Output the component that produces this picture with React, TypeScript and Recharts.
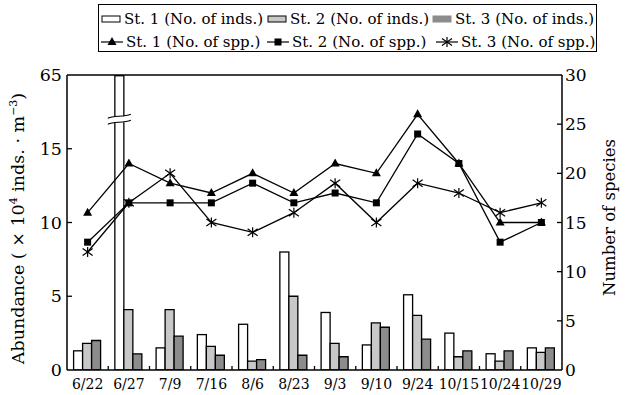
import { ComposedChart, Bar, Line, XAxis, YAxis, ReferenceLine } from "recharts";

const dates = ["6/22", "6/27", "7/9", "7/16", "8/6", "8/23", "9/3", "9/10", "9/24", "10/15", "10/24", "10/29"];
// abundance, x10^4 inds. per m3
const st1Inds = [1.3, 64.5, 1.5, 2.4, 3.1, 8.0, 3.9, 1.7, 5.1, 2.5, 1.1, 1.5];
const st2Inds = [1.8, 4.1, 4.1, 1.6, 0.6, 5.0, 1.8, 3.2, 3.7, 0.9, 0.6, 1.2];
const st3Inds = [2.0, 1.1, 2.3, 1.0, 0.7, 1.0, 0.9, 2.9, 2.1, 1.3, 1.3, 1.5];
// number of species
const st1Spp = [16, 21, 19, 18, 20, 18, 21, 20, 26, 21, 15, 15];
const st2Spp = [13, 17, 17, 17, 19, 17, 18, 17, 24, 21, 13, 15];
const st3Spp = [12, 17, 20, 15, 14, 16, 19, 15, 19, 18, 16, 17];

const leftTicks = [0, 5, 10, 15, 20];
const leftTickLabels = ["0", "5", "10", "15", "65"];
const rightTicks = [0, 5, 10, 15, 20, 25, 30];

// broken left axis: 0-15 linear, then 15-65 squeezed into one step of 5
const BREAK_LOW = 15;
const BREAK_HIGH = 65;
const BREAK_MARK = 17;
const squeeze = (v: number) =>
  v <= BREAK_LOW ? v : BREAK_LOW + ((v - BREAK_LOW) / (BREAK_HIGH - BREAK_LOW)) * 5;

const data = dates.map((d, i) => ({
  date: d,
  st1Raw: st1Inds[i],
  st1: squeeze(st1Inds[i]),
  st2: squeeze(st2Inds[i]),
  st3: squeeze(st3Inds[i]),
  s1: st1Spp[i],
  s2: st2Spp[i],
  s3: st3Spp[i],
}));

const FONT = "'DejaVu Serif', serif";
const W = 638;
const H = 395;
const PLOT_W = 495;

const BrokenBar = (props: any) => {
  const { x, y, width, height, fill, payload } = props;
  const rect = <rect x={x} y={y} width={width} height={height} fill={fill} stroke="#000" strokeWidth={1.3} />;
  if (!payload || payload.st1Raw <= BREAK_LOW) return rect;
  const perUnit = height / payload.st1;
  const yb = y + height - BREAK_MARK * perUnit;
  const x0 = x - 7;
  const x1 = x + width + 7;
  const curve = (yy: number) =>
    `M${x0},${yy + 2} C${x0 + 6},${yy - 1} ${x1 - 8},${yy + 1} ${x1},${yy - 2}`;
  return (
    <g>
      {rect}
      <rect x={x0} y={yb - 3} width={x1 - x0} height={6} fill="#fff" />
      <path d={curve(yb - 3)} fill="none" stroke="#000" strokeWidth={1.2} />
      <path d={curve(yb + 3)} fill="none" stroke="#000" strokeWidth={1.2} />
    </g>
  );
};

const Triangle = (props: any) => {
  const { cx, cy } = props;
  if (cx == null || cy == null) return null;
  return <path d={`M${cx},${cy - 5} L${cx + 4.5},${cy + 3} L${cx - 4.5},${cy + 3} Z`} fill="#000" />;
};

const Square = (props: any) => {
  const { cx, cy } = props;
  if (cx == null || cy == null) return null;
  return <rect x={cx - 3.5} y={cy - 3.5} width={7} height={7} fill="#000" />;
};

const Star = (props: any) => {
  const { cx, cy } = props;
  if (cx == null || cy == null) return null;
  return (
    <g stroke="#000" strokeWidth={1.2}>
      <line x1={cx} y1={cy - 5} x2={cx} y2={cy + 5} />
      <line x1={cx - 5} y1={cy - 3.5} x2={cx + 5} y2={cy + 3.5} />
      <line x1={cx - 5} y1={cy + 3.5} x2={cx + 5} y2={cy - 3.5} />
    </g>
  );
};

const LeftTick = (props: any) => {
  const { x, y, payload } = props;
  const i = leftTicks.indexOf(payload.value);
  return (
    <g>
      {payload.value > 0 && payload.value < 20 && <line x1={x} y1={y} x2={x + 5} y2={y} stroke="#000" strokeWidth={1.3} />}
      <text x={x - 5} y={y + 6} textAnchor="end" fontFamily={FONT} fontSize={17.5} fill="#000">
        {leftTickLabels[i]}
      </text>
    </g>
  );
};

const RightTick = (props: any) => {
  const { x, y, payload } = props;
  return (
    <g>
      {payload.value > 0 && payload.value < 30 && <line x1={x - 5} y1={y} x2={x} y2={y} stroke="#000" strokeWidth={1.3} />}
      <text x={x + 3} y={y + 6} textAnchor="start" fontFamily={FONT} fontSize={17} fill="#000">
        {payload.value}
      </text>
    </g>
  );
};

const DateTick = (props: any) => {
  const { x, y, payload, index } = props;
  const half = PLOT_W / dates.length / 2;
  return (
    <g>
      {index < dates.length - 1 && (
        <line x1={x + half} y1={y} x2={x + half} y2={y - 4} stroke="#000" strokeWidth={1.3} />
      )}
      <text x={x} y={y + 19} textAnchor="middle" fontFamily={FONT} fontSize={14} fill="#000">
        {payload.value}
      </text>
    </g>
  );
};

const LeftTitle = (props: any) => {
  const { viewBox } = props;
  const cy = viewBox.y + viewBox.height / 2;
  const cx = 24;
  return (
    <text
      transform={`translate(${cx},${cy + 6}) rotate(-90)`}
      textAnchor="middle"
      fontFamily={FONT}
      fontSize={17.5}
      fill="#000"
    >
      Abundance ( × 10
      <tspan dy={-7} fontSize={11}>4</tspan>
      <tspan dy={7}> inds. · m</tspan>
      <tspan dy={-7} fontSize={11}>−3</tspan>
      <tspan dy={7}>)</tspan>
    </text>
  );
};

const RightTitle = (props: any) => {
  const { viewBox } = props;
  const cy = viewBox.y + viewBox.height / 2;
  const cx = 615;
  return (
    <text
      transform={`translate(${cx},${cy - 5}) rotate(-90)`}
      textAnchor="middle"
      fontFamily={FONT}
      fontSize={16.5}
      fill="#000"
    >
      Number of species
    </text>
  );
};

const BoxIcon = ({ fill }: { fill: string }) => (
  <svg width={20} height={10} style={{ marginRight: 3 }}>
    <rect x={1} y={2} width={18} height={6} fill={fill} stroke={fill === "#8c8c8c" ? "#8c8c8c" : "#000"} strokeWidth={1} />
  </svg>
);

const LineIcon = ({ marker }: { marker: string }) => (
  <svg width={22} height={12} style={{ marginRight: 3 }}>
    <line x1={0} y1={6} x2={22} y2={6} stroke="#000" strokeWidth={1.2} />
    {marker === "tri" && <Triangle cx={11} cy={6} />}
    {marker === "sq" && <Square cx={11} cy={6} />}
    {marker === "star" && <Star cx={11} cy={6} />}
  </svg>
);

const legendItems = [
  { label: "St. 1 (No. of inds.)", left: 2, top: 6, icon: <BoxIcon fill="#ffffff" /> },
  { label: "St. 2 (No. of inds.)", left: 168, top: 6, icon: <BoxIcon fill="#c8c8c8" /> },
  { label: "St. 3 (No. of inds.)", left: 333, top: 6, icon: <BoxIcon fill="#8c8c8c" /> },
  { label: "St. 1 (No. of spp.)", left: 2, top: 29, icon: <LineIcon marker="tri" /> },
  { label: "St. 2 (No. of spp.)", left: 168, top: 29, icon: <LineIcon marker="sq" /> },
  { label: "St. 3 (No. of spp.)", left: 337, top: 29, icon: <LineIcon marker="star" /> },
];

const ChartLegend = () => (
  <div
    style={{
      position: "absolute",
      left: 98,
      top: 4,
      width: 499,
      height: 48,
      border: "1px solid #000",
      boxSizing: "border-box",
      fontFamily: FONT,
      fontSize: 15,
      color: "#000",
    }}
  >
    {legendItems.map((it) => (
      <div
        key={it.label}
        style={{ position: "absolute", left: it.left, top: it.top, display: "flex", alignItems: "center", whiteSpace: "nowrap", lineHeight: "16px" }}
      >
        {it.icon}
        <span>{it.label}</span>
      </div>
    ))}
  </div>
);

export default function App() {
  return (
    <div style={{ position: "absolute", left: 0, top: 0, width: W, height: H, background: "#fff" }}>
      <ChartLegend />
      <ComposedChart
        width={W}
        height={H}
        data={data}
        margin={{ top: 75, right: 0, bottom: 0, left: 0 }}
        barCategoryGap="16%"
        barGap={0}
      >
        <XAxis
          dataKey="date"
          height={25}
          tickSize={0}
          tickMargin={0}
          tick={<DateTick />}
          axisLine={{ stroke: "#000", strokeWidth: 1.5 }}
          interval={0}
        />
        <YAxis
          yAxisId="left"
          width={67}
          domain={[0, 20]}
          ticks={leftTicks}
          tickSize={0}
          tickMargin={0}
          tick={<LeftTick />}
          axisLine={{ stroke: "#000", strokeWidth: 1.5 }}
          allowDataOverflow
          label={<LeftTitle />}
        />
        <YAxis
          yAxisId="right"
          orientation="right"
          width={76}
          domain={[0, 30]}
          ticks={rightTicks}
          tickSize={0}
          tickMargin={0}
          tick={<RightTick />}
          axisLine={{ stroke: "#000", strokeWidth: 1.5 }}
          label={<RightTitle />}
        />
        <ReferenceLine yAxisId="left" y={20} stroke="#000" strokeWidth={1.5} />
        <Bar yAxisId="left" dataKey="st1" fill="#ffffff" stroke="#000" strokeWidth={1.3} shape={<BrokenBar />} isAnimationActive={false} />
        <Bar yAxisId="left" dataKey="st2" fill="#c8c8c8" stroke="#000" strokeWidth={1.3} isAnimationActive={false} />
        <Bar yAxisId="left" dataKey="st3" fill="#8c8c8c" stroke="#000" strokeWidth={1.3} isAnimationActive={false} />
        <Line yAxisId="right" type="linear" dataKey="s1" stroke="#000" strokeWidth={1.3} dot={<Triangle />} activeDot={false} isAnimationActive={false} />
        <Line yAxisId="right" type="linear" dataKey="s2" stroke="#000" strokeWidth={1.3} dot={<Square />} activeDot={false} isAnimationActive={false} />
        <Line yAxisId="right" type="linear" dataKey="s3" stroke="#000" strokeWidth={1.3} dot={<Star />} activeDot={false} isAnimationActive={false} />
      </ComposedChart>
    </div>
  );
}
